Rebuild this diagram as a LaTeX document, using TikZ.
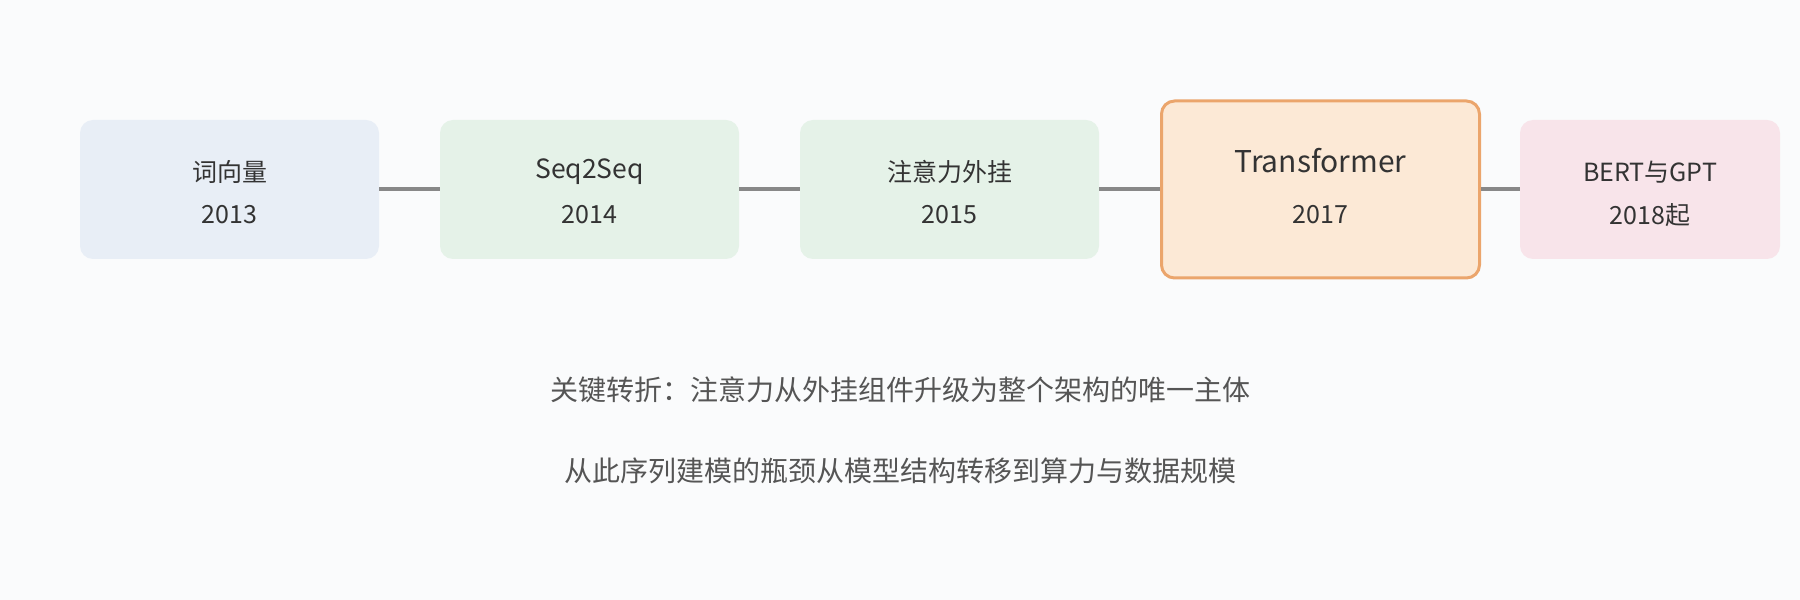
\documentclass[tikz,border=0pt]{standalone}
\usepackage{fontspec}
\setmainfont{Noto Sans CJK SC}
\begin{document}
\begin{tikzpicture}[x=1pt,y=1pt,
  box/.style={rounded corners=13pt, minimum height=139pt, minimum width=299pt, inner sep=0pt, text=txt, align=center},
  conn/.style={draw=lineg, line width=4pt}]
\definecolor{bg}{HTML}{FAFBFC}
\definecolor{txt}{HTML}{333333}
\definecolor{sub}{HTML}{555555}
\definecolor{lineg}{HTML}{888888}
\definecolor{cblue}{HTML}{E8EEF6}
\definecolor{cgreen}{HTML}{E5F2E8}
\definecolor{corange}{HTML}{FCE9D6}
\definecolor{borange}{HTML}{EBA56C}
\definecolor{cpink}{HTML}{F8E4EA}
\fill[bg] (0,0) rectangle (1800,600);
\useasboundingbox (0,0) rectangle (1800,600);
\node[box, fill=cblue] (a) at (229.5,410.5) {};
\node[box, fill=cgreen] (b) at (589.5,410.5) {};
\node[box, fill=cgreen] (c) at (949.5,410.5) {};
\node[box, fill=corange, draw=borange, line width=3pt, minimum width=318pt, minimum height=177pt] (d) at (1320.5,410.5) {};
\node[box, fill=cpink, minimum width=260pt] (e) at (1650,410.5) {};
\draw[conn] (a.east) -- (b.west);
\draw[conn] (b.east) -- (c.west);
\draw[conn] (c.east) -- (d.west);
\draw[conn] (d.east) -- (e.west);
\tikzset{lbl/.style={text=txt, font=\fontsize{25}{29}\selectfont},
  cjk/.style={text=txt, font=\fontsize{25}{29}\selectfont},
  big/.style={text=txt, font=\fontsize{30}{34}\selectfont},
  lat/.style={text=txt, font=\fontsize{26.5}{30}\selectfont},
  note/.style={text=sub, font=\fontsize{28}{32}\selectfont}}
\node[cjk] (a1) at (229.5,428) {词向量};
\node[lbl] (a2) at (229.5,385) {2013};
\node[lat] (b1) at (589.5,428) {Seq2Seq};
\node[lbl] (b2) at (589.5,385) {2014};
\node[cjk] (c1) at (949.5,428) {注意力外挂};
\node[lbl] (c2) at (949.5,385) {2015};
\node[big] (d1) at (1320.5,439) {Transformer};
\node[lbl] (d2) at (1320.5,385) {2017};
\node[lbl] (e1) at (1650,428) {BERT与GPT};
\node[lbl] (e2) at (1650,385) {2018起};
\node[note] (t1) at (900,210) {关键转折：注意力从外挂组件升级为整个架构的唯一主体};
\node[note] (t2) at (900,129) {从此序列建模的瓶颈从模型结构转移到算力与数据规模};
\end{tikzpicture}
\end{document}
